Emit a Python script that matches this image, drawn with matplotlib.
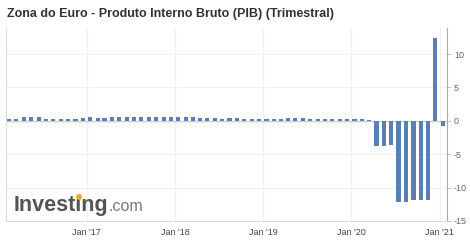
import datetime as dt
import matplotlib
matplotlib.use("Agg")
import matplotlib.pyplot as plt
from matplotlib.patches import Ellipse

# monthly releases, Feb 2016 .. Jan 2021 (QoQ %)
gdp_2016 = [0.3, 0.3, 0.6, 0.5, 0.6, 0.3, 0.3, 0.3, 0.3, 0.3, 0.4]
gdp_2017 = [0.6, 0.4, 0.4, 0.6, 0.5, 0.5, 0.6, 0.6, 0.6, 0.6, 0.6, 0.6]
gdp_2018 = [0.6, 0.6, 0.6, 0.4, 0.4, 0.4, 0.3, 0.4, 0.4, 0.2, 0.2, 0.2]
gdp_2019 = [0.2, 0.2, 0.2, 0.4, 0.4, 0.4, 0.2, 0.3, 0.2, 0.2, 0.2, 0.2]
gdp_2020 = [0.3, 0.3, 0.1, -3.8, -3.8, -3.6, -12.1, -12.1, -11.8, -11.8, -11.8, 12.4]
gdp_2021 = [-0.7]
values = gdp_2016 + gdp_2017 + gdp_2018 + gdp_2019 + gdp_2020 + gdp_2021

dates = []
y, m = 2016, 2
for _ in values:
    dates.append(dt.date(y, m, 15))
    m += 1
    if m > 12:
        y, m = y + 1, 1

year_ticks = [dt.date(yr, 1, 1) for yr in range(2017, 2022)]
year_labels = ["Jan '17", "Jan '18", "Jan '19", "Jan '20", "Jan '21"]
y_ticks = [10, 5, 0, -5, -10, -15]

plt.rcParams['font.family'] = ['Liberation Sans', 'DejaVu Sans']

fig = plt.figure(figsize=(4.7, 2.46), dpi=100)
ax = fig.add_axes([6 / 470, 1 - 221 / 246, 441 / 470, 193 / 246])

ax.bar(dates, values, width=17, color='#5a7fb3', zorder=3)

ax.set_xlim(dt.date(2016, 2, 1), dt.date(2021, 2, 1))
ax.set_ylim(-15, 13.9)

ax.set_xticks(year_ticks)
ax.set_xticklabels(year_labels, fontsize=6.5, color='#444444')
ax.set_yticks(y_ticks)
ax.set_yticklabels([str(t) for t in y_ticks], fontsize=6.5, color='#666666')
ax.yaxis.tick_right()
ax.tick_params(axis='x', length=0, pad=5)
ax.tick_params(axis='y', length=3, color='#cccccc', pad=2)

ax.grid(True, color='#f0f0f0', linewidth=0.8, zorder=0)
ax.axhline(0, color='#cccccc', linewidth=1, zorder=2)

ax.spines['top'].set_visible(False)
ax.spines['right'].set_color('#aaaaaa')
ax.spines['left'].set_color('#dddddd')
ax.spines['bottom'].set_color('#dddddd')

fig.text(7 / 470, 1 - 14 / 246, 'Zona do Euro - Produto Interno Bruto (PIB) (Trimestral)',
         fontsize=9, fontweight='bold', color='#333333', va='center', ha='left')

# logo
base_y = 1 - 211 / 246
logo = fig.text(14 / 470, base_y, 'Investing', fontsize=15.5, fontweight='bold',
                color='#555555', va='baseline', ha='left')
fig.canvas.draw()
bb = logo.get_window_extent()
fig.text(bb.x1 / 470, base_y, '.com', fontsize=11.5, color='#777777',
         va='baseline', ha='left')

# orange dot over the second "i"
renderer = fig.canvas.get_renderer()
t1 = fig.text(14 / 470, base_y, 'Invest', fontsize=15.5, fontweight='bold')
t2 = fig.text(14 / 470, base_y, 'Investi', fontsize=15.5, fontweight='bold')
x_a = t1.get_window_extent(renderer).x1
x_b = t2.get_window_extent(renderer).x1
t1.remove()
t2.remove()
dot_x = (x_a + x_b) / 2
fig.patches.append(Ellipse((dot_x / 470, 1 - 197 / 246), 4.5 / 470, 4.5 / 246,
                           transform=fig.transFigure, color='#f5a623', zorder=5))

fig.savefig('out.png', dpi=100)
